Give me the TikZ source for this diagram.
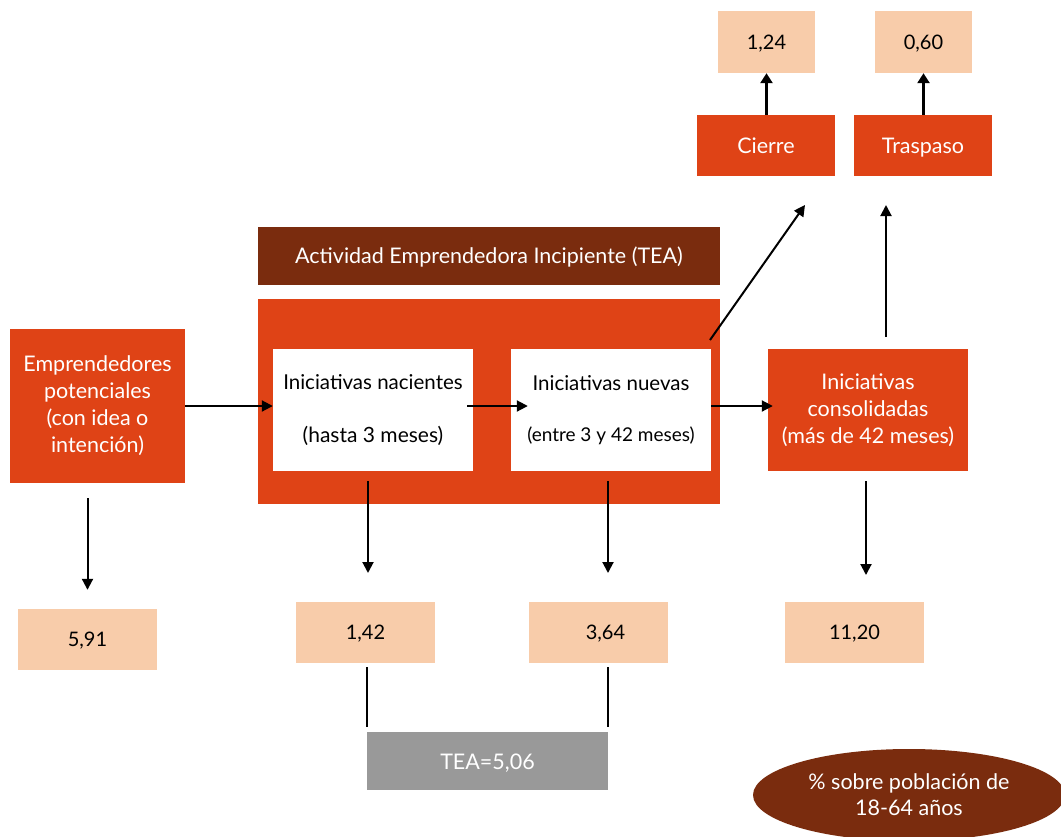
\documentclass[tikz,border=0pt]{standalone}
\usepackage{fontspec}
\setmainfont{Lato}
\usetikzlibrary{arrows.meta,calc,shapes.geometric}
\definecolor{orng}{RGB}{223,67,22}
\definecolor{brwn}{RGB}{122,44,14}
\definecolor{peach}{RGB}{248,204,170}
\definecolor{gry}{RGB}{153,153,153}
\tikzset{
  box/.style={inner sep=0pt, align=center, font=\fontsize{21.5}{27}\selectfont},
  obox/.style={box, fill=orng, text=white},
  wbox/.style={box, fill=white, text=black},
  pbox/.style={box, fill=peach, text=black, font=\fontsize{20}{24}\selectfont},
  arr/.style={draw=black, line width=2pt, -{Triangle[length=11pt,width=11pt]}},
  tarr/.style={draw=black, line width=3.5pt, -{Triangle[length=10pt,width=12pt]}},
  ln/.style={draw=black, line width=2pt},
}
\newcommand{\rbox}[6]{% style, name, x1, y1, x2, y2, text via next
  \node[#1, minimum width={#5-#3}, minimum height={#6-#4}] (#2) at ({(#3+#5)/2},{(#4+#6)/2})}
\newcommand{\vs}{\vphantom{Ágp}}
\begin{document}
\begin{tikzpicture}[x=1pt,y=-1pt]
\useasboundingbox (0,0) rectangle (1061,836);
% ellipse (drawn first, clipped by bounding box)
\begin{scope}
\clip (0,0) rectangle (1061,836);
\node[ellipse, fill=brwn, text=white, minimum width=312pt, minimum height=92pt, inner sep=0pt, align=center, font=\fontsize{21.5}{26}\selectfont] (leg) at (909,795) {\% sobre población de\\18-64 años};
\end{scope}
% boxes
\rbox{obox}{emp}{10}{329}{185}{483} {Emprendedores\\potenciales\\(con idea o\\intención)};
\rbox{box, fill=brwn, text=white}{tea}{258}{227}{720}{285} {\vs Actividad Emprendedora Incipiente (TEA)};
\rbox{box, fill=orng}{big}{258}{299}{720}{504} {};
\rbox{wbox, font=\fontsize{20.5}{55}\selectfont}{nac}{273}{349}{473}{471} {Iniciativas nacientes\\[-2pt]{\fontsize{21}{20}\selectfont(hasta 3 meses)}};
\rbox{wbox, font=\fontsize{20.5}{53}\selectfont}{nue}{511}{349}{711}{471} {Iniciativas nuevas\\[-2pt]{\fontsize{19}{20}\selectfont(entre 3 y 42 meses)}};
\rbox{obox}{con}{768}{349}{968}{471} {Iniciativas\\consolidadas\\(más de 42 meses)};
\rbox{obox}{cie}{697}{115}{835}{176} {\vs Cierre};
\rbox{obox}{tra}{854}{115}{992}{176} {\vs Traspaso};
\rbox{pbox}{v124}{718}{11}{815}{73} {\vs 1,24};
\rbox{pbox}{v060}{875}{11}{972}{73} {\vs 0,60};
\rbox{pbox}{v591}{18}{609}{157}{670} {\vs 5,91};
\rbox{pbox}{v142}{296}{602}{435}{663} {\vs 1,42};
\rbox{pbox}{v364}{529}{602}{668}{663} {\vs\hspace{14pt}3,64};
\rbox{pbox}{v1120}{785}{602}{924}{663} {\vs 11,20};
\rbox{box, fill=gry, text=white}{vtea}{367}{732}{608}{790} {\vs TEA=5,06};
% connectors
\draw[arr] (emp.east |- 0,406) -- (nac.west |- 0,406);
\draw[arr, shorten <=-6pt, shorten >=-17pt] (nac.east |- 0,406) -- (nue.west |- 0,406);
\draw[arr, shorten >=-5pt] (nue.east |- 0,406) -- (con.west |- 0,406);
\draw[arr, shorten <=15pt, shorten >=19pt] (v591.north |- emp.south) -- (v591.north);
\draw[arr, shorten <=10pt, shorten >=29pt] (368,471) coordinate (a1) -- (368,602) coordinate (b1);
\draw[arr, shorten <=10pt, shorten >=29pt] (608,471) coordinate (a2) -- (608,602) coordinate (b2);
\draw[arr, shorten <=10pt, shorten >=27pt] (866,471) coordinate (a3) -- (866,602) coordinate (b3);
\draw[ln, shorten <=4pt, shorten >=5pt] (vtea.north west |- v142.south) -- (vtea.north west);
\draw[ln, shorten <=4pt, shorten >=5pt] (vtea.north east |- v364.south) -- (vtea.north east);
\draw[tarr] (cie.north -| v124.south) -- (v124.south);
\draw[tarr] (tra.north -| v060.south) -- (v060.south);
\coordinate (d1) at (710,340);
\coordinate (d2) at (805,205);
\draw[arr] (d1) -- (d2);
\coordinate (u1) at (886,337);
\coordinate (u2) at (886,205);
\draw[arr] (u1) -- (u2);
\end{tikzpicture}
\end{document}
